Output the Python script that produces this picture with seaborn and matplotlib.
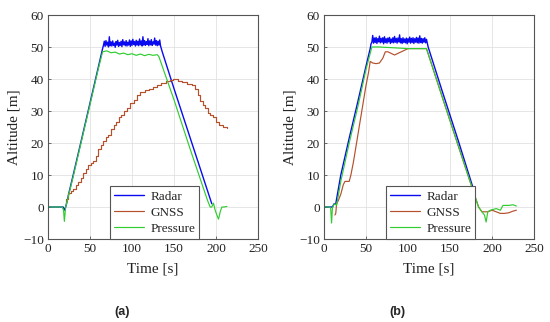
import numpy as np
import pandas as pd
import matplotlib
matplotlib.use("Agg")
import matplotlib.pyplot as plt
import seaborn as sns

# ---------------- data: panel (a) ----------------
radar_a_t = [0, 18, 19, 20, 22, 25, 30, 40, 50, 60, 65] + list(range(66, 135)) + [136, 150, 170, 190, 195]
radar_a_y = [0, 0, -0.5, -1, 1, 4.5, 10, 21.2, 32.5, 43.8, 49.5,
             50.5, 51.8, 50.2, 52.0, 50.6, 51.5, 50.0, 53.2, 50.4, 51.6,
             50.3, 51.9, 50.5, 51.2, 49.9, 51.7, 50.6, 52.1, 50.2, 51.4,
             50.5, 51.8, 50.1, 52.3, 50.7, 51.6, 50.4, 52.0, 50.3, 51.5,
             50.6, 52.2, 50.2, 51.9, 50.5, 52.4, 50.8, 51.7, 50.3, 52.1,
             50.6, 51.8, 50.4, 52.5, 50.7, 51.9, 50.3, 53.2, 50.6, 52.0,
             50.5, 51.7, 50.8, 52.6, 50.4, 51.9, 50.7, 52.3, 50.5, 51.6,
             50.9, 52.8, 50.6, 52.0, 50.4, 51.8, 50.6, 52.2, 50.3,
             48.5, 37, 21, 5, 1]

gnss_a_t = [21, 22, 24, 27, 30, 33, 36, 39, 42, 45, 48, 51, 54, 57, 60, 63, 66, 69, 72, 75,
            78, 81, 84, 87, 90, 94, 98, 102, 106, 110, 115, 120, 125, 130, 135, 140, 145,
            149, 155, 160, 166, 172, 175, 178, 181, 184, 187, 190, 193, 196, 200, 204,
            208, 213]
gnss_a_y = [1, 2.5, 4.5, 5, 5.5, 7, 7.8, 9, 10.5, 12, 13, 13.8, 14.5, 16, 18, 19.5, 20.5,
            21.8, 22.5, 24.5, 25.5, 26.5, 28, 28.8, 30, 31, 32.5, 33.5, 35, 36, 36.5, 37,
            37.5, 38.2, 38.8, 39.5, 39.8, 40, 39.5, 39, 38.5, 38, 36.8, 35, 33, 32, 31,
            29.5, 28.8, 28, 26.5, 25.5, 25, 24.8]

press_a_t = [0, 17, 18.5, 19.5, 21, 23, 30, 40, 50, 60, 65, 70, 75, 80, 85, 90, 95, 100,
             105, 110, 115, 120, 125, 130, 132, 150, 170, 190, 193, 195, 197, 199, 201,
             203, 205, 207, 210, 213]
press_a_y = [0, 0, -1, -4.5, 0, 2, 9.5, 20.8, 32, 43.3, 48.5, 48.8, 48.2, 48.4, 47.8, 48.1,
             47.6, 47.9, 47.4, 47.8, 47.3, 47.7, 47.4, 47.6, 47, 33.5, 17.5, 2, 0, 0, 1.2,
             -1, -2.5, -3.8, -1.5, 0, 0, 0.2]

# ---------------- data: panel (b) ----------------
radar_b_t = [0, 10, 11, 12, 14, 20, 30, 40, 50, 55, 56] + list(range(57, 123)) + [124, 140, 160, 178]
radar_b_y = [0, 0, 0.5, 1, 1, 10, 21.5, 32.6, 44, 49.5, 51,
             51.5, 53.6, 51.2, 52.8, 51.4, 53.0, 51.1, 52.6, 51.6, 53.4,
             51.3, 52.7, 51.5, 52.9, 51.0, 53.2, 51.4, 52.6, 51.2, 52.8,
             51.6, 53.0, 51.1, 52.5, 51.4, 52.9, 51.3, 53.3, 51.5, 52.7,
             51.2, 52.8, 51.6, 53.8, 51.3, 52.6, 51.1, 52.9, 51.4, 52.5,
             51.3, 52.8, 51.0, 52.6, 51.5, 53.1, 51.2, 52.7, 51.4, 52.9,
             51.1, 52.6, 51.5, 53.0, 51.3, 52.8, 51.2, 53.5, 51.4, 52.7,
             51.2, 52.6, 51.5, 52.9, 51.3, 52.4,
             50, 36.8, 20.6, 5.5]

gnss_b_t = [13, 14, 15, 17, 20, 23, 25, 28, 30, 32, 35, 40, 45, 50, 53, 55, 58, 62, 66, 70,
            73, 76, 80, 84, 88, 92, 96, 100, 110, 122, 140, 160, 177, 184, 188, 195, 200,
            205, 210, 215, 220, 225, 229]
gnss_b_y = [-2.5, -2, 1, 2, 4, 7, 8, 8, 8, 10, 14, 22, 30, 38, 42, 45.5, 45, 44.8, 45, 46.5,
            48.5, 48.5, 48, 47.5, 48, 48.5, 49, 49.5, 49.5, 49.5, 35, 19, 5.5, 0, -1.5, -1.5,
            -1, -1.5, -2, -2, -1.8, -1.3, -1]

press_b_t = [0, 7, 8, 9, 10, 11, 13, 15, 20, 30, 40, 50, 55, 57, 65, 80, 100, 115, 122, 140,
             160, 177, 184, 188, 191, 193, 195, 198, 205, 210, 213, 220, 225, 229]
press_b_y = [0, 0, -0.5, -5, -0.5, 0.5, 1, 0.5, 8, 20, 31, 43, 48, 50, 50, 49.8, 49.5, 49.5,
             49.5, 35, 19, 5.5, 0, -1.5, -2.5, -4.7, -1.5, -1, -0.5, -1, 0.5, 0.5, 0.7, 0.3]

series_names = ["Radar", "GNSS", "Pressure"]
colors = {"Radar": "#0a0af0", "GNSS": "#b4502c", "Pressure": "#30cc30"}
x_ticks = [0, 50, 100, 150, 200, 250]
y_ticks = [-10, 0, 10, 20, 30, 40, 50, 60]
panel_labels = ["(a)", "(b)"]


def frame(ts, ys, name):
    return pd.DataFrame({"t": ts, "alt": ys, "series": name})


panels = [
    [frame(radar_a_t, radar_a_y, "Radar"), frame(gnss_a_t, gnss_a_y, "GNSS"),
     frame(press_a_t, press_a_y, "Pressure")],
    [frame(radar_b_t, radar_b_y, "Radar"), frame(gnss_b_t, gnss_b_y, "GNSS"),
     frame(press_b_t, press_b_y, "Pressure")],
]
gnss_steps = [True, False]

sns.set_theme(style="whitegrid")
plt.rcParams["font.family"] = ["Liberation Serif", "DejaVu Serif"]

fig = plt.figure(figsize=(5.5, 3.22), dpi=100)
positions = [[48 / 550, 83 / 322, 210 / 550, 224 / 322],
             [324 / 550, 83 / 322, 210 / 550, 224 / 322]]
label_x = [122 / 550, 397 / 550]

for i, (dfs, pos) in enumerate(zip(panels, positions)):
    ax = fig.add_axes(pos)
    for df in dfs:
        name = df["series"].iloc[0]
        step = name == "GNSS" and gnss_steps[i]
        sns.lineplot(data=df, x="t", y="alt", ax=ax, color=colors[name],
                     lw=1.0 if name == "Radar" else 0.85,
                     label=name, sort=False, estimator=None,
                     drawstyle="steps-post" if step else "default")
    ax.set_xlim(0, 250)
    ax.set_ylim(-10, 60)
    ax.set_xticks(x_ticks)
    ax.set_yticks(y_ticks)
    ax.grid(True, color="#e2e2e2", lw=0.6)
    ax.set_facecolor("white")
    for s in ax.spines.values():
        s.set_color("#555555")
        s.set_linewidth(0.8)
    ax.tick_params(direction="in", length=2.5, width=0.6, colors="#555555",
                   labelcolor="#222222", labelsize=9.5, pad=3,
                   left=True, bottom=True)
    ax.set_xlabel("Time [s]", fontsize=11, color="#222222", labelpad=5)
    ax.set_ylabel("Altitude [m]", fontsize=11, color="#222222", labelpad=2)
    leg = ax.legend(loc="lower left", bbox_to_anchor=(0.295, 0.0), borderaxespad=0,
                    fontsize=9.5, frameon=True, fancybox=False, handlelength=2.3,
                    labelspacing=0.3, borderpad=0.3, handletextpad=0.45)
    leg.get_frame().set_edgecolor("#555555")
    leg.get_frame().set_linewidth(0.8)
    leg.get_frame().set_alpha(1)
    fig.text(label_x[i], (322 - 312) / 322, panel_labels[i],
             ha="center", va="center", fontsize=9, fontweight="bold",
             family=["Liberation Sans", "DejaVu Sans"])

fig.savefig("out.png", dpi=100)
